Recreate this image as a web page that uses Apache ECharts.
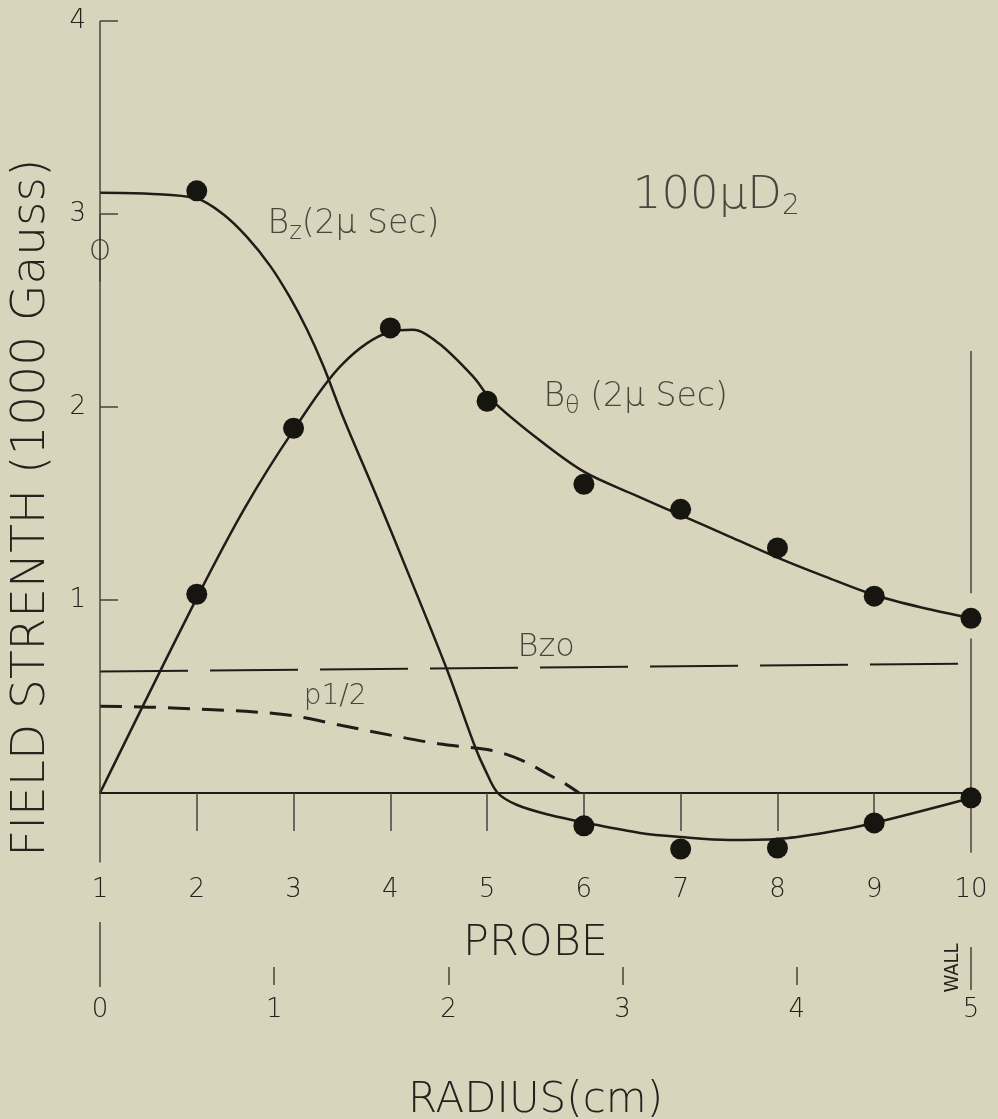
<!DOCTYPE html>
<html><head><meta charset="utf-8">
<script src="https://cdn.jsdelivr.net/npm/echarts@6/dist/echarts.min.js"></script>
<style>html,body{margin:0;padding:0;background:#d9d5bd}#c{width:998px;height:1119px}</style>
</head><body><div id="c"></div>
<script>
// ---- data ----
const probeTicks = [1,2,3,4,5,6,7,8,9,10];
const probeMinorTicks = [2,3,4,5,6,7,8,9];
const radiusTicks = [0,1,2,3,4,5];
const radiusMinorTicks = [1,2,3,4];
const fieldTicks = [1,2,3,4];

// measured points (probe number, field in kG)
const bzPoints = [[2,3.12],[6,-0.17],[7,-0.29],[8,-0.285],[9,-0.155],[10,-0.025]];
const btPoints = [[2,1.03],[3,1.89],[4,2.41],[5,2.03],[6,1.60],[7,1.47],[8,1.27],[9,1.02],[10,0.905]];

// drawn curves
const bzCurve = [[1,3.11],[1.5,3.105],[2,3.08],[2.27,3.0],[2.52,2.88],[2.76,2.73],[2.96,2.57],[3.14,2.40],[3.31,2.21],[3.51,1.95],[3.86,1.535],[4.2,1.12],[4.585,0.64],[4.875,0.24],[4.98,0.12],[5.11,0],[5.31,-0.062],[5.65,-0.114],[6.03,-0.155],[6.58,-0.207],[7,-0.228],[7.5,-0.243],[8,-0.238],[8.5,-0.205],[9,-0.155],[10,-0.026]];
const btCurve = [[1,0],[2,1.01],[2.5,1.48],[3,1.88],[3.5,2.22],[4,2.39],[4.23,2.40],[4.5,2.33],[4.86,2.155],[5.04,2.04],[5.5,1.845],[6,1.665],[6.5,1.55],[7,1.44],[7.5,1.33],[8,1.22],[8.5,1.12],[9,1.026],[9.5,0.96],[10,0.907]];
const pHalfCurve = [[1,0.45],[1.5,0.445],[2,0.435],[2.6,0.42],[3,0.40],[3.5,0.35],[4,0.30],[4.5,0.255],[5,0.225],[5.2,0.20],[5.4,0.16],[5.6,0.105],[5.8,0.05],[5.95,0]];
const bzoLine = [[1,0.63],[10,0.67]];

// ---- styling ----
const INK = '#1f1d18';
const TXT = '#23221d';
const AX = '#45443e';
const FONT = "'DejaVu Sans', sans-serif";
const FW = 200;
const SMOOTH = 0.33;

const chart = echarts.init(document.getElementById('c'));

function ann(text, coord, pos, rich) {
  return {
    value: coord,
    label: {show: true, position: pos, distance: 0, formatter: text, rich: rich,
            color: TXT, fontFamily: FONT, fontWeight: FW}
  };
}
const sub = (fs, pad) => ({fontSize: fs, fontFamily: FONT, fontWeight: FW, color: TXT, padding: [pad,0,0,0]});
const main = (fs) => ({fontSize: fs, fontFamily: FONT, fontWeight: FW, color: TXT});

const option = {
  backgroundColor: '#d9d5bd',
  animation: false,
  grid: {left: 100, right: 27, top: 21, bottom: 256.5, containLabel: false, outerBoundsMode: 'none'},
  xAxis: [
    {
      type: 'value', min: 1, max: 10, interval: 1, position: 'bottom',
      axisLine: {show: true, onZero: true, lineStyle: {color: INK, width: 2}},
      axisTick: {show: true, inside: false, length: 38, customValues: probeMinorTicks, lineStyle: {color: AX, width: 1.5}},
      axisLabel: {show: true, margin: 15, customValues: probeTicks, fontSize: 26, color: TXT, fontFamily: FONT, fontWeight: FW},
      splitLine: {show: false},
      name: 'PROBE', nameLocation: 'middle', nameGap: 60,
      nameTextStyle: {fontSize: 43, color: TXT, fontFamily: FONT, fontWeight: FW}
    },
    {
      type: 'value', min: 0, max: 5, interval: 1, position: 'bottom', offset: 122.5,
      axisLine: {show: false},
      axisTick: {show: true, inside: true, length: 18, customValues: radiusMinorTicks, lineStyle: {color: AX, width: 1.5}},
      axisLabel: {show: true, margin: 12, customValues: radiusTicks, fontSize: 26, color: TXT, fontFamily: FONT, fontWeight: FW},
      splitLine: {show: false},
      name: 'RADIUS(cm)', nameLocation: 'middle', nameGap: 95,
      nameTextStyle: {fontSize: 42, color: TXT, fontFamily: FONT, fontWeight: FW}
    }
  ],
  yAxis: {
    type: 'value', min: -0.36, max: 4, position: 'left',
    axisLine: {show: false, onZero: false},
    axisTick: {show: true, inside: true, length: 18, customValues: fieldTicks, lineStyle: {color: AX, width: 1.5}},
    axisLabel: {show: true, margin: 14, customValues: fieldTicks, fontSize: 26, color: TXT, fontFamily: FONT, fontWeight: FW},
    splitLine: {show: false},
    name: 'FIELD STRENTH (1000 Gauss)', nameLocation: 'middle', nameRotate: 90, nameGap: 45,
    nameTextStyle: {fontSize: 47, color: TXT, fontFamily: FONT, fontWeight: FW, padding: [0, 132, 0, 0]}
  },
  series: [
    {
      name: 'Bzo', type: 'line', data: bzoLine, symbol: 'none', silent: true,
      lineStyle: {color: INK, width: 2, type: [88, 22]},
      markLine: {
        silent: true, symbol: ['none','none'], label: {show: false},
        lineStyle: {color: AX, width: 1.5, type: 'solid'},
        data: [
          [{coord: [1, -0.36]}, {coord: [1, 3.0]}],
          [{coord: [1, 2.65]}, {coord: [1, 4]}],
          [{coord: [10, 2.29]}, {coord: [10, 1.035]}],
          [{coord: [10, 0.80]}, {coord: [10, -0.31]}]
        ]
      }
    },
    {name: 'p1/2', type: 'line', data: pHalfCurve, symbol: 'none', smooth: SMOOTH,
     lineStyle: {color: INK, width: 3, type: [22, 12]}},
    {name: 'Bz curve', type: 'line', data: bzCurve, symbol: 'none', smooth: SMOOTH,
     lineStyle: {color: INK, width: 2.5}},
    {name: 'Btheta curve', type: 'line', data: btCurve, symbol: 'none', smooth: SMOOTH,
     lineStyle: {color: INK, width: 2.5}},
    {name: 'Bz', type: 'scatter', data: bzPoints, symbol: 'circle', symbolSize: 21, itemStyle: {color: '#171510', opacity: 1}, z: 5},
    {name: 'Btheta', type: 'scatter', data: btPoints, symbol: 'circle', symbolSize: 21, itemStyle: {color: '#171510', opacity: 1}, z: 5},
    {
      name: 'annotations', type: 'scatter', symbolSize: 1, itemStyle: {color: 'rgba(0,0,0,0)'}, silent: true, z: 6,
      data: [
        ann('{t|100μD}{s|2}', [6.50, 3.09], 'right', {t: main(45), s: sub(28, 20)}),
        ann('{t|B}{s|z}{t|(2μ Sec)}', [2.726, 2.948], 'right', {t: main(33), s: sub(24, 18)}),
        ann('{t|B}{s|θ}{t| (2μ Sec)}', [5.577, 2.05], 'right', {t: main(33), s: sub(24, 18)}),
        ann('{t|Bzo}', [5.31, 0.751], 'right', {t: main(32)}),
        ann('{t|p1/2}', [3.10, 0.50], 'right', {t: main(28)}),
        ann('{t|O}', [1, 2.80], 'inside', {t: main(28)})
      ]
    }
  ]
};
chart.setOption(option);

const p0 = chart.convertToPixel({xAxisIndex: 0, yAxisIndex: 0}, [1, 0]);
const p10 = chart.convertToPixel({xAxisIndex: 0, yAxisIndex: 0}, [10, 0]);
chart.setOption({
  graphic: [
    {type: 'line', shape: {x1: p0[0], y1: p0[1] + 129, x2: p0[0], y2: p0[1] + 194}, style: {stroke: AX, lineWidth: 1.5}, silent: true},
    {type: 'line', shape: {x1: p10[0], y1: p0[1] + 154, x2: p10[0], y2: p0[1] + 197}, style: {stroke: AX, lineWidth: 1.5}, silent: true},
    {type: 'text', x: p10[0] - 18, y: p0[1] + 175, rotation: Math.PI / 2,
     style: {text: 'WALL', fontSize: 20, fontFamily: "'DejaVu Sans Condensed', 'Liberation Sans Narrow', 'DejaVu Sans'", fontWeight: FW, fill: TXT, align: 'center', verticalAlign: 'middle'}, silent: true}
  ]
});
</script></body></html>
